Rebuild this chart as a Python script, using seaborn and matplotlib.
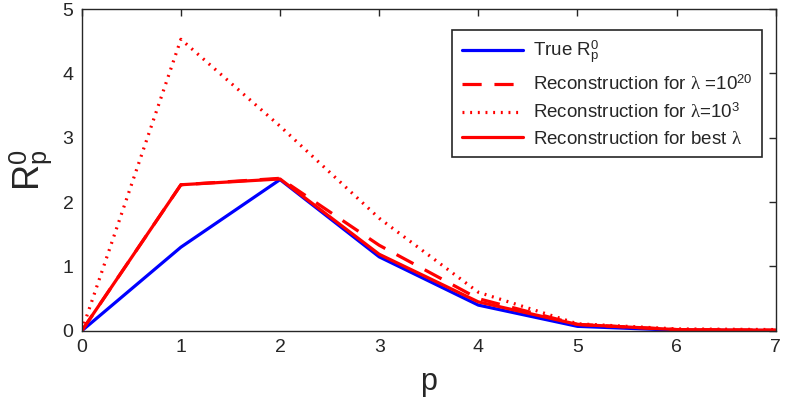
import numpy as np
import pandas as pd
import matplotlib
matplotlib.use("Agg")
import matplotlib.pyplot as plt
import seaborn as sns

p = [0, 1, 2, 3, 4, 5, 6, 7]
true_r = [0, 1.30, 2.35, 1.15, 0.40, 0.07, 0.01, 0.005]
rec_1e20 = [0, 2.27, 2.37, 1.33, 0.50, 0.10, 0.02, 0.01]
rec_1e3 = [0, 4.53, 3.18, 1.75, 0.60, 0.11, 0.03, 0.02]
rec_best = [0, 2.27, 2.36, 1.19, 0.45, 0.10, 0.02, 0.01]

labels = [r"True R$^{0}_{\mathrm{p}}$",
          r"Reconstruction for $\lambda$ =10$^{20}$",
          r"Reconstruction for $\lambda$=10$^{3}$",
          r"Reconstruction for best $\lambda$"]

sns.set_theme(style="white")
plt.rcParams['font.family'] = ['Liberation Sans', 'DejaVu Sans']
plt.rcParams['mathtext.fontset'] = 'custom'
plt.rcParams['mathtext.rm'] = 'Liberation Sans'
plt.rcParams['mathtext.it'] = 'Liberation Serif'

fig = plt.figure(figsize=(7.86, 4.11), dpi=100)
ax = fig.add_axes([0.104, 0.195, 0.883, 0.783])

series = [(true_r, "#0000ff", "-"), (rec_1e20, "#ff0000", (0, (6, 4))),
          (rec_1e3, "#ff0000", (0, (0.6, 1.8))), (rec_best, "#ff0000", "-")]
for (vals, col, ls), lab in zip(series, labels):
    df = pd.DataFrame({"p": p, "v": vals})
    sns.lineplot(data=df, x="p", y="v", ax=ax, color=col, linewidth=2.3,
                 label=lab, linestyle=ls)

ax.set_xlim(0, 7)
ax.set_ylim(0, 5)
ax.set_xticks(range(0, 8))
ax.set_yticks(range(0, 6))
ax.tick_params(direction="in", length=5, width=1, colors="#262626",
               labelsize=14, top=True, right=True, labelcolor="#262626", pad=6)
for s in ax.spines.values():
    s.set_color("#262626")
    s.set_linewidth(1)
ax.set_xlabel("p", fontsize=22, color="#262626", labelpad=8)
ax.set_ylabel(r"R$^{0}_{\mathrm{p}}$", fontsize=26, color="#262626", labelpad=6)

leg = ax.legend(loc="upper right", fontsize=13.5, frameon=True, fancybox=False,
                edgecolor="#262626", framealpha=1, handlelength=3.3,
                handletextpad=0.5, borderpad=0.5, labelspacing=0.45,
                borderaxespad=0, bbox_to_anchor=(0.98, 0.935))
leg.get_frame().set_linewidth(1.2)

fig.savefig("out.png", dpi=100)
